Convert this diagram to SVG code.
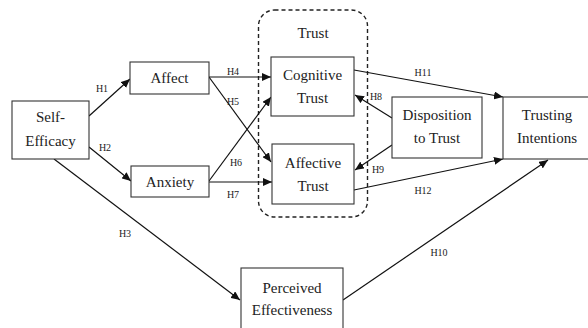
<svg xmlns="http://www.w3.org/2000/svg" width="588" height="328" viewBox="0 0 588 328">
<defs>
<marker id="ah" markerUnits="userSpaceOnUse" markerWidth="10" markerHeight="8" refX="9" refY="4" orient="auto">
<path d="M0,0 L9,4 L0,8 Z" fill="#111"/>
</marker>
<style>
.box{fill:#fff;stroke:#333;stroke-width:1.1}
.t{font-family:"Liberation Serif","Times New Roman",serif;font-size:15px;fill:#222;text-anchor:middle}
.h{font-family:"Liberation Serif","Times New Roman",serif;font-size:10px;fill:#222;text-anchor:middle}
.c{stroke:#111;stroke-width:1.2;fill:none;marker-end:url(#ah)}
</style>
</defs>
<rect width="588" height="328" fill="#fff"/>
<g id="trust-group">
<rect x="258.5" y="10" width="109" height="207" rx="16" fill="none" stroke="#222" stroke-width="1.4" stroke-dasharray="4,3"/>
<text class="t" x="313" y="38">Trust</text>
</g>
<g id="connectors">
<line class="c" x1="89" y1="116" x2="130" y2="79"/>
<line class="c" x1="89" y1="147" x2="131" y2="181"/>
<line class="c" x1="54" y1="159" x2="240" y2="300"/>
<line class="c" x1="209" y1="77" x2="271" y2="77"/>
<line class="c" x1="209" y1="77" x2="271" y2="162"/>
<line class="c" x1="209" y1="181" x2="271" y2="97"/>
<line class="c" x1="209" y1="182" x2="272" y2="182"/>
<line class="c" x1="392" y1="118" x2="355" y2="95"/>
<line class="c" x1="392" y1="145" x2="355" y2="170"/>
<line class="c" x1="354" y1="70" x2="503" y2="97"/>
<line class="c" x1="354" y1="190" x2="503" y2="159"/>
<line class="c" x1="343" y1="300" x2="548" y2="160"/>
<text class="h" x="102" y="92">H1</text>
<text class="h" x="105" y="151">H2</text>
<text class="h" x="125" y="237">H3</text>
<text class="h" x="233" y="75">H4</text>
<text class="h" x="233" y="105">H5</text>
<text class="h" x="236" y="166">H6</text>
<text class="h" x="233" y="198">H7</text>
<text class="h" x="376" y="100">H8</text>
<text class="h" x="378" y="173">H9</text>
<text class="h" x="439" y="256">H10</text>
<text class="h" x="423" y="76">H11</text>
<text class="h" x="423" y="194">H12</text>
</g>
<g id="self-efficacy">
<rect class="box" x="12" y="101" width="77" height="58"/>
<text class="t" x="50.5" y="122">Self-</text>
<text class="t" x="50.5" y="146">Efficacy</text>
</g>
<g id="affect">
<rect class="box" x="130" y="62" width="79" height="32"/>
<text class="t" x="169.5" y="83">Affect</text>
</g>
<g id="anxiety">
<rect class="box" x="131" y="166" width="78" height="31"/>
<text class="t" x="170" y="187">Anxiety</text>
</g>
<g id="cognitive-trust">
<rect class="box" x="271" y="57" width="83" height="59"/>
<text class="t" x="312.5" y="80">Cognitive</text>
<text class="t" x="312.5" y="103">Trust</text>
</g>
<g id="affective-trust">
<rect class="box" x="272" y="144" width="82" height="60"/>
<text class="t" x="313" y="168">Affective</text>
<text class="t" x="313" y="191">Trust</text>
</g>
<g id="disposition-to-trust">
<rect class="box" x="392" y="97" width="90" height="61"/>
<text class="t" x="437" y="120">Disposition</text>
<text class="t" x="437" y="143">to Trust</text>
</g>
<g id="trusting-intentions">
<rect class="box" x="503" y="97" width="90" height="62"/>
<text class="t" x="547" y="120">Trusting</text>
<text class="t" x="547" y="143">Intentions</text>
</g>
<g id="perceived-effectiveness">
<rect class="box" x="241" y="268" width="102" height="64"/>
<text class="t" x="292" y="293">Perceived</text>
<text class="t" x="292" y="315">Effectiveness</text>
</g>
</svg>
